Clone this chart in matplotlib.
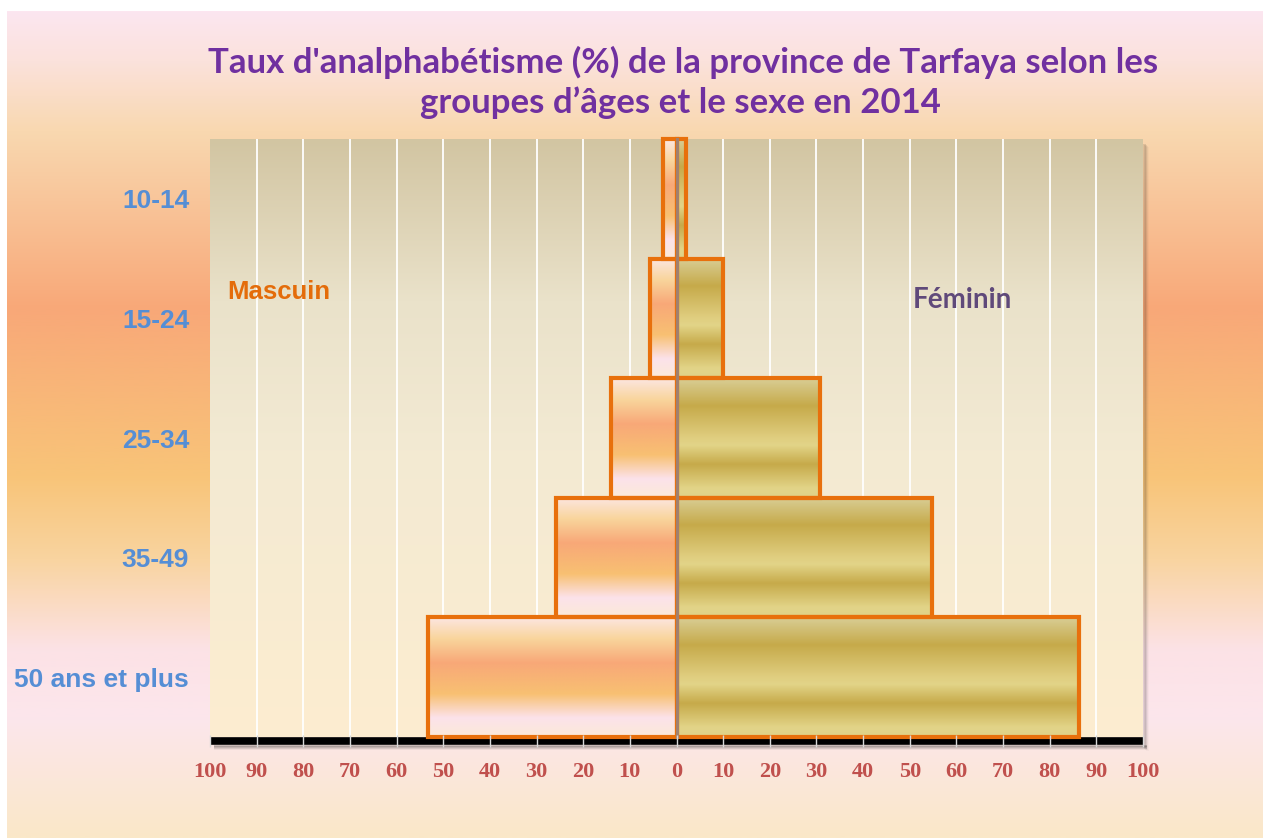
import matplotlib
matplotlib.use("Agg")
import matplotlib.pyplot as plt
import numpy as np
from matplotlib.colors import LinearSegmentedColormap
from matplotlib.patches import Rectangle

# data
age_groups = ["10-14", "15-24", "25-34", "35-49", "50 ans et plus"]
masculin = [2.8, 5.7, 14.0, 25.9, 53.3]
feminin = [2.1, 9.9, 30.8, 54.8, 86.2]
x_ticks = list(range(-100, 101, 10))
x_tick_labels = [str(abs(t)) for t in x_ticks]

title_1 = "Taux d'analphabétisme (%) de la province de Tarfaya selon les"
title_2 = "groupes d’âges et le sexe en 2014"


def gradient(stops, n=256):
    """Vertical gradient image (top -> bottom) from (pos, color) stops."""
    cmap = LinearSegmentedColormap.from_list("g", stops)
    return cmap(np.linspace(0, 1, n))[:, None, :]


W, H = 1263, 838
fig = plt.figure(figsize=(W / 100, H / 100), dpi=100)
fig.patch.set_facecolor("white")

# page background
bg = fig.add_axes([7 / W, 0, 1 - 7 / W, (H - 11) / H], zorder=-10)
bg_stops = [
    (0.0, "#FCE6F0"), (0.06, "#FBE2DC"), (0.145, "#F9D8B0"), (0.36, "#F8A878"),
    (0.563, "#F8C478"), (0.664, "#F9D4A0"), (0.773, "#FCE2E6"), (0.858, "#FCE6EC"),
    (1.0, "#FAE8C8"),
]
bg.imshow(gradient(bg_stops), aspect="auto", extent=(0, 1, 0, 1), interpolation="bilinear")
bg.set_axis_off()

# plot area
left, right, top, bottom = 210, 1143, 139, 737
ax = fig.add_axes([left / W, 1 - bottom / H, (right - left) / W, (bottom - top) / H])

# drop shadow of the plot area
for i, a in enumerate([0.10, 0.07, 0.045, 0.025]):
    d = i + 1
    fig.patches.append(Rectangle(((right + d - 1) / W, 1 - (bottom + 10 + d) / H),
                                 3 / W, (bottom - top + 6) / H,
                                 transform=fig.transFigure, color="black",
                                 alpha=a, lw=0, zorder=-5))
    fig.patches.append(Rectangle(((left + 4) / W, 1 - (bottom + 9 + d) / H),
                                 (right - left) / W, 2 / H,
                                 transform=fig.transFigure, color="black",
                                 alpha=a * 2, lw=0, zorder=-5))

xmin, xmax = -100, 100
ymin, ymax = -0.5, len(age_groups) - 0.5
plot_stops = [(0.0, "#D2C5A2"), (0.27, "#EAE2CA"), (0.52, "#F3EAD3"), (1.0, "#FDEDD0")]
ax.imshow(gradient(plot_stops), aspect="auto", extent=(xmin, xmax, ymin, ymax),
          interpolation="bilinear", zorder=0)

for t in x_ticks[1:-1]:
    ax.axvline(t, color="white", lw=1.3, zorder=1)

male_stops = [(0.0, "#FCE6E2"), (0.18, "#F9D59C"), (0.38, "#F8A878"),
              (0.64, "#F8C072"), (0.84, "#FCE2EA"), (1.0, "#FBEAD8")]
female_stops = [(0.0, "#D9CE96"), (0.23, "#C6AA4A"), (0.5, "#E0CE80"),
                (0.56, "#E2D488"), (0.72, "#C6AA4A"), (0.92, "#E2D488"),
                (1.0, "#E0D288")]
male_img = gradient(male_stops)
female_img = gradient(female_stops)

y_pos = np.arange(len(age_groups))[::-1]
for y, m, f in zip(y_pos, masculin, feminin):
    ax.imshow(male_img, aspect="auto", extent=(-m, 0, y - 0.5, y + 0.5),
              interpolation="bilinear", zorder=2)
    ax.imshow(female_img, aspect="auto", extent=(0, f, y - 0.5, y + 0.5),
              interpolation="bilinear", zorder=2)

bar_kw = dict(height=1.0, fill=False, edgecolor="#E8700C", lw=3, zorder=4, clip_on=False)
ax.barh(y_pos, [-m for m in masculin], **bar_kw)
ax.barh(y_pos, feminin, **bar_kw)
ax.axvline(0, color="#A08070", lw=2.2, zorder=5, clip_on=False)

ax.set_xlim(xmin, xmax)
ax.set_ylim(ymin, ymax)

for s in ["top", "left", "right"]:
    ax.spines[s].set_visible(False)
ax.spines["bottom"].set_position(("outward", 3.2))
ax.spines["bottom"].set_linewidth(5.5)
ax.spines["bottom"].set_color("black")
ax.spines["bottom"].set_capstyle("butt")

ax.set_xticks(x_ticks)
ax.set_xticklabels(x_tick_labels, fontfamily="Liberation Serif", fontweight="bold",
                   fontsize=16, color="#C0504D")
ax.tick_params(axis="x", direction="inout", length=8, width=1, color="#D8D8D8", pad=11)
ax.xaxis.set_zorder(6)

ax.set_yticks(y_pos)
ax.set_yticklabels(age_groups, fontfamily="Liberation Sans", fontweight="bold",
                   fontsize=19, color="#558ED5")
ax.tick_params(axis="y", length=0, pad=15)

ax.text(-96.3, 3.22, "Mascuin", fontfamily="Liberation Sans", fontweight="bold",
        fontsize=18.5, color="#E46C0A", va="center", ha="left", zorder=7)
ax.text(50.7, 3.15, "Féminin", fontfamily="Lato", fontweight="bold",
        fontsize=20, color="#5F497A", va="center", ha="left", zorder=7)

fig.text(683 / W, 1 - 62 / H, title_1, fontfamily="Lato", fontweight="bold",
         fontsize=25, color="#7030A0", ha="center", va="center")
fig.text(680 / W, 1 - 103 / H, title_2, fontfamily="Lato", fontweight="bold",
         fontsize=25, color="#7030A0", ha="center", va="center")

fig.savefig("out.png", dpi=100)
